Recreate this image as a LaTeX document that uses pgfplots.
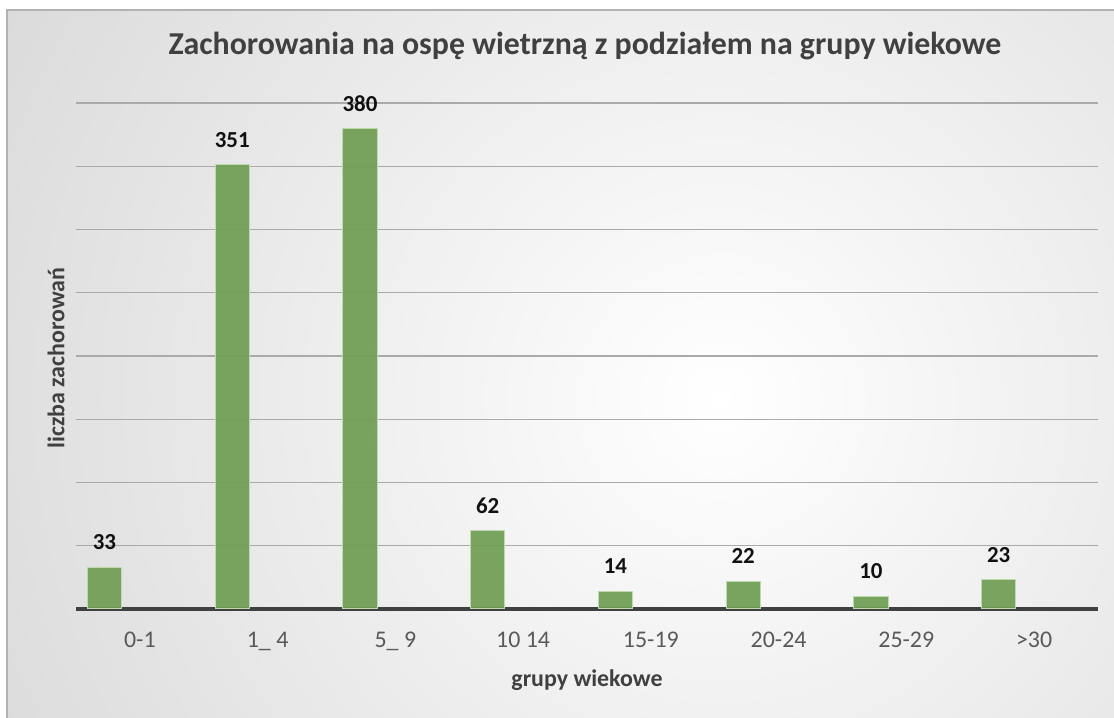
\documentclass[border=0pt]{standalone}
\usepackage{pgfplots}
\pgfplotsset{compat=1.18}
\usepackage{fontspec}
\setmainfont{Carlito}
\definecolor{barfill}{RGB}{112,158,84}
\definecolor{barline}{RGB}{190,218,172}
\definecolor{gridc}{RGB}{170,170,170}
\definecolor{axisc}{RGB}{64,64,64}
\definecolor{titlec}{RGB}{64,64,64}
\definecolor{tickc}{RGB}{89,89,89}
\begin{document}
\begin{tikzpicture}[x=1bp,y=1bp]
\useasboundingbox (0,0) rectangle (1114,718);
\fill[white] (0,0) rectangle (1114,718);
\begin{scope}
\clip (7,0) rectangle (1114,708);
\shade[inner color=white, outer color=black!27] (720,320) circle (1550);
\end{scope}
\draw[black!30, line width=1.2bp] (7,0) -- (7,708) -- (1114,708);
\begin{axis}[
  at={(76bp,109bp)}, anchor=south west,
  scale only axis, width=1022bp, height=506bp,
  xmin=-0.5, xmax=7.5, ymin=0, ymax=400,
  ybar, bar width=0.268, bar shift=-0.277,
  axis x line*=bottom, axis y line*=left,
  x axis line style={draw=axisc, line width=3.2bp, -},
  y axis line style={draw=none},
  /pgf/number format/assume math mode=true,
  xtick={0,...,7},
  xticklabels={0-1,1\_ 4,5\_ 9,10 14,15-19,20-24,25-29,>30},
  major tick length=0pt,
  xticklabel style={font=\fontsize{24}{28}\selectfont, text=tickc, anchor=base, yshift=-39bp},
  ytick={0,50,...,400}, yticklabels={},
  ymajorgrids, grid style={draw=gridc, line width=1.2bp},
  nodes near coords,
  nodes near coords style={font=\bfseries\fontsize{23}{27}\selectfont, text=black, anchor=center, yshift=25bp},
  title={Zachorowania na ospę wietrzną z podziałem na grupy wiekowe},
  title style={at={(rel axis cs:0.498,1.101)}, anchor=center, font=\bfseries\fontsize{32}{38}\selectfont, text=titlec},
  xlabel={grupy wiekowe},
  xlabel style={at={(rel axis cs:0.5,-0.140)}, anchor=center, font=\bfseries\fontsize{24}{28}\selectfont, text=titlec},
  ylabel={liczba zachorowań},
  ylabel style={at={(rel axis cs:-0.0196,0.496)}, anchor=center, rotate=0, font=\bfseries\fontsize{24}{28}\selectfont, text=titlec},
]
\addplot[fill=barfill, fill opacity=0.93, draw=barline, line width=1bp] coordinates {
  (0,33) (1,351) (2,380) (3,62) (4,14) (5,22) (6,10) (7,23)
};
\end{axis}
\end{tikzpicture}
\end{document}
